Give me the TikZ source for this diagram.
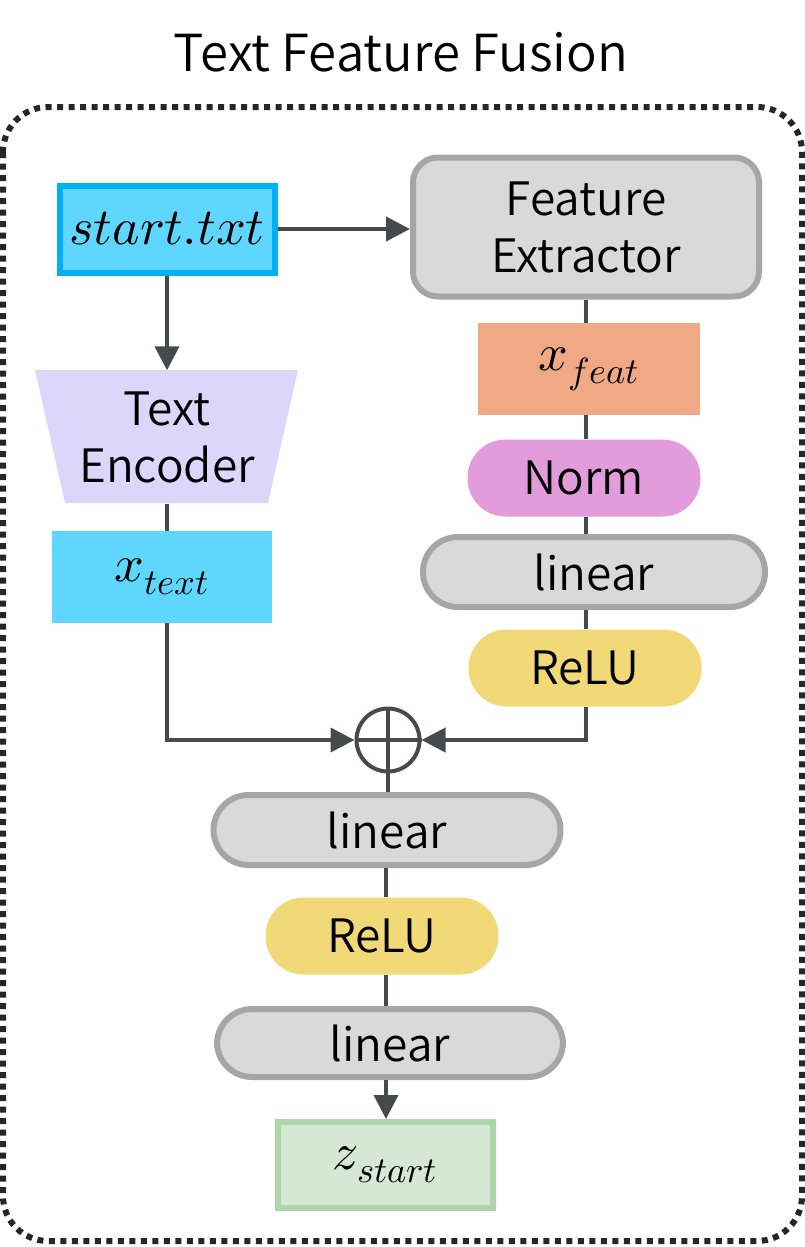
\documentclass[tikz,border=0pt]{standalone}
\usepackage{fontspec}
\usepackage{unicode-math}
\setmainfont{Noto Sans CJK KR}[UprightFont={* DemiLight}]
\setmathfont{Latin Modern Math}
\usetikzlibrary{shapes.geometric, arrows.meta}

\definecolor{cyanfill}{HTML}{5FD6FD}
\definecolor{cyanline}{HTML}{00B0F0}
\definecolor{greyfill}{HTML}{D9D9D9}
\definecolor{greyline}{HTML}{A6A6A6}
\definecolor{featfill}{HTML}{F1A985}
\definecolor{normfill}{HTML}{E39CDB}
\definecolor{relufill}{HTML}{F2D978}
\definecolor{encfill}{HTML}{DCD6FB}
\definecolor{outfill}{HTML}{D5E8D4}
\definecolor{outline}{HTML}{AFD5AA}
\definecolor{wire}{HTML}{454B4B}

\tikzstyle{txt} = [font=\fontsize{46}{57}\selectfont, align=center, inner sep=0pt]
\tikzstyle{tensor} = [rectangle, minimum width=220pt, minimum height=92pt, inner sep=0pt, font=\fontsize{52}{56}\selectfont]
\tikzstyle{layer} = [txt, rectangle, rounded corners=35pt, fill=greyfill, draw=greyline, line width=6pt, minimum height=70pt]
\tikzstyle{act} = [txt, rectangle, rounded corners=38pt, minimum width=233pt, minimum height=77pt]
\tikzstyle{wireline} = [draw=wire, line width=4pt]
\tikzstyle{arrow} = [wireline, -{Triangle[length=24pt,width=24pt]}]

\begin{document}
\begin{tikzpicture}[x=1pt,y=-1pt]

    \useasboundingbox (0,0) rectangle (805,1247);

    % Frame
    \node[txt, font=\fontsize{51}{56}\selectfont] (title) at (401,52) {Text Feature Fusion};
    \draw[color=black!85, line width=6pt, dash pattern=on 6pt off 5.5pt, rounded corners=45pt] (3,107) rectangle (802,1241);

    % Nodes
    \node[tensor, fill=cyanfill, draw=cyanline, line width=6pt, minimum width=215pt, minimum height=87pt] (start) at (167,229) {$start.txt$};
    \node[txt, rectangle, rounded corners=25pt, fill=greyfill, draw=greyline, line width=6pt, minimum width=346pt, minimum height=139pt] (extractor) at (586,227) {Feature\\Extractor};
    \fill[encfill] (35,370) -- (298,370) -- (268,503) -- (65,503) -- cycle;
    \node[txt, minimum height=133pt] (encoder) at (167,437) {Text\\Encoder};
    \node[tensor, fill=cyanfill] (xtext) at (162,577) {$x_{text}$};
    \node[tensor, fill=featfill, minimum width=222pt] (xfeat) at (589,369) {$x_{feat}$};
    \node[act, fill=normfill] (norm) at (584,478) {Norm};
    \node[layer, minimum width=342pt] (linA) at (594,572) {linear};
    \node[act, fill=relufill] (reluA) at (585,668) {ReLU};
    \node[circle, draw=wire, line width=4pt, minimum size=63pt, inner sep=0pt] (plus) at (388,740) {};
    \node[layer, minimum width=347pt] (linB) at (387,830) {linear};
    \node[act, fill=relufill] (reluB) at (382,936) {ReLU};
    \node[layer, minimum width=346pt, minimum height=68pt] (linC) at (390,1043) {linear};
    \node[tensor, fill=outfill, draw=outline, line width=6pt, minimum width=215pt, minimum height=86pt] (zstart) at (385,1165) {$z_{start}$};

    % Arrows
    \draw[wireline] (plus.north) -- (plus.south);
    \draw[wireline] (plus.west) -- (plus.east);
    \draw[arrow] (start.east) -- (extractor.west |- start.east);
    \draw[arrow] (start.south) -- (encoder.north -| start.south);
    \draw[wireline] (encoder.south) -- (encoder.south |- xtext.north);
    \draw[wireline] (extractor.south -| 586,0) -- (xfeat.north -| 586,0);
    \draw[wireline] (xfeat.south -| 586,0) -- (norm.north -| 586,0);
    \draw[wireline] (norm.south -| 586,0) -- (linA.north -| 586,0);
    \draw[wireline] (linA.south -| 586,0) -- (reluA.north -| 586,0);
    \draw[arrow] (reluA.south -| 586,0) |- (plus.east);
    \draw[arrow] (xtext.south -| 167,0) |- (plus.west);
    \draw[wireline] (plus.south) -- (linB.north -| plus.south);
    \draw[wireline] (linB.south -| 386,0) -- (reluB.north -| 386,0);
    \draw[wireline] (reluB.south -| 386,0) -- (linC.north -| 386,0);
    \draw[arrow] (linC.south -| 386,0) -- (zstart.north -| 386,0);

\end{tikzpicture}
\end{document}
